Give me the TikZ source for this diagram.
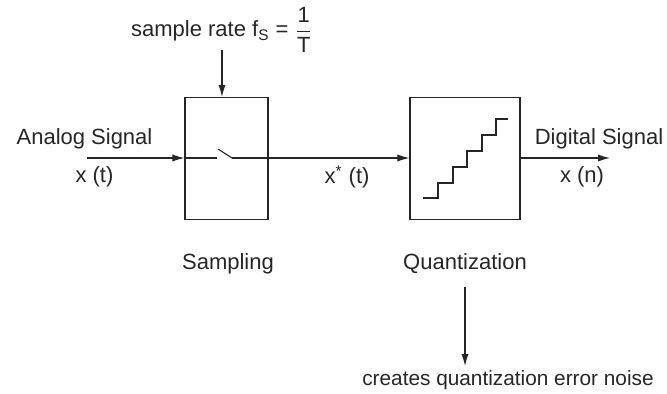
\documentclass[tikz,border=0pt]{standalone}
\usepackage{amsmath}
\usepackage{fontspec}
\setmainfont{Liberation Sans}
\usetikzlibrary{arrows.meta,calc}
\tikzset{
  blk/.style={draw,line width=0.6pt,inner sep=0pt,minimum height=61pt},
  sig/.style={line width=0.55pt,-{Latex[length=6pt,width=3.6pt]}},
  wire/.style={line width=0.55pt},
  lbl/.style={inner sep=0pt,anchor=base,font=\fontsize{11}{13}\selectfont}
}

\begin{document}
\begin{tikzpicture}[x=0.5pt,y=-0.5pt,color=black!85]
    \useasboundingbox (0,0) rectangle (667,394);
    % blocks
    \node[blk,minimum width=41.5pt] (samp) at (226.5,158.5){};
    \node[blk,minimum width=55pt] (quant) at (465,158.5){};
    \node[lbl] (samplbl) at (228,270){Sampling};
    \node[lbl] (quantlbl) at (465,270){Quantization};
    % sample rate
    \node[lbl] (rate) at (222,37){sample rate f\textsubscript{S} = $\dfrac{\text{1}}{\text{T}}$};
    \coordinate (clk) at (222,50);
    \draw[sig] (clk) -- (clk |- samp.north);
    % input
    \coordinate (in) at (87,158);
    \node[lbl] (analog) at (84.5,145){Analog Signal};
    \node[lbl] (xt) at (94.5,183){x (t)};
    \draw[sig] (in) -- (in -| samp.west);
    % switch
    \coordinate (sw1) at (217,158);
    \coordinate (sw2) at (218,149);
    \coordinate (sw3) at (232,158);
    \draw[wire] (samp.west |- sw1) -- (sw1);
    \draw[wire] (sw2) -- (sw3);
    \draw[sig] (sw3) -- (sw3 -| quant.west);
    \node[lbl] (xst) at (347,184){x\textsuperscript{*} (t)};
    % staircase
    \draw[wire] (423,198) -- (438,198) -- (438,183) -- (453,183) -- (453,167)
      -- (467,167) -- (467,151) -- (482,151) -- (482,135) -- (496,135)
      -- (496,119) -- (508,119);
    % output
    \coordinate (out) at (610,158);
    \draw[sig] (out -| quant.east) -- (out);
    \node[lbl] (digital) at (599,145){Digital Signal};
    \node[lbl] (xn) at (582,183){x (n)};
    % noise
    \coordinate (qn) at (465,287);
    \coordinate (tip) at (465,366);
    \draw[sig] (qn) -- (tip);
    \node[lbl,font=\fontsize{10.4}{12}\selectfont] (noise) at (508,385){creates quantization error noise};
\end{tikzpicture}
\end{document}
